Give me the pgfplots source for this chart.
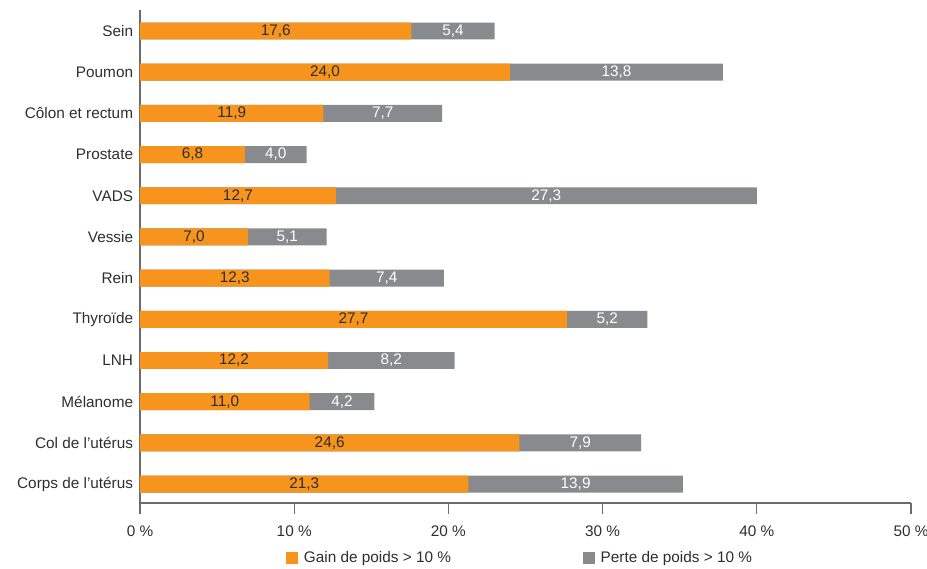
\documentclass[border=0pt]{standalone}
\usepackage{fontspec}
\setmainfont{Liberation Sans}
\usepackage{pgfplots}
\usepackage{pgfplotstable}
\pgfplotsset{compat=1.18}

\definecolor{gain}{HTML}{F7941D}
\definecolor{perte}{HTML}{898A8E}
\definecolor{axisgray}{HTML}{6B6B6B}
\definecolor{txt}{HTML}{2E2E2E}

% y: position (0 = bas), a: gain de poids, b: perte de poids
\pgfplotstableread{
y  a     b
0  21.3  13.9
1  24.6  7.9
2  11.0  4.2
3  12.2  8.2
4  27.7  5.2
5  12.3  7.4
6  7.0   5.1
7  12.7  27.3
8  6.8   4.0
9  11.9  7.7
10 24.0  13.8
11 17.6  5.4
}\data

\begin{document}
\begin{tikzpicture}[font=\fontsize{11.5}{14}\selectfont]
\useasboundingbox (-105pt,-48.75pt) rectangle (590.25pt,377.25pt);
\begin{axis}[
  width=578.25pt, height=369.75pt,
  scale only axis,
  clip=false,
  xmin=0, xmax=50,
  ymin=-0.46, ymax=11.51,
  axis x line*=bottom, axis y line*=left,
  axis line style={-, draw=axisgray, line width=1pt},
  xtick={0,10,20,30,40,50},
  xticklabels={0 \%,10 \%,20 \%,30 \%,40 \%,50 \%},
  xtick align=outside,
  major tick length=8.5pt,
  x tick style={draw=axisgray, line width=1pt},
  xticklabel style={inner sep=0pt, yshift=-8.5pt, text=txt},
  ytick={0,...,11},
  yticklabels={Corps de l'utérus,Col de l'utérus,Mélanome,LNH,Thyroïde,Rein,Vessie,VADS,Prostate,Côlon et rectum,Poumon,Sein},
  y tick style={draw=none},
  yticklabel style={inner sep=0pt, xshift=-5pt, text=txt},
  legend columns=2,
  legend style={at={(rel axis cs:0.1894,-0.1116)}, anchor=west, draw=none,
    inner sep=0pt, font=\fontsize{11.5}{14}\selectfont, text=txt,
    /tikz/every odd column/.append style={column sep=2.25pt},
    /tikz/every even column/.append style={column sep=97pt}},
  legend image code/.code={\fill[#1] (0pt,-4.5pt) rectangle (9pt,4.5pt);},
]
% barres grises (total) puis barres orange par-dessus
\addplot[xbar, bar shift=0pt, bar width=0.41, fill=perte, draw=none, forget plot]
  table[x expr=\thisrow{a}+\thisrow{b}, y=y]{\data};
\addplot[xbar, bar shift=0pt, bar width=0.41, fill=gain, draw=none, forget plot]
  table[x=a, y=y]{\data};

% etiquettes des valeurs
\addplot[draw=none, mark=none, forget plot, point meta=\thisrow{a},
  nodes near coords={\pgfmathprintnumber[assume math mode=true,fixed,fixed zerofill,precision=1,use comma]{\pgfplotspointmeta}},
  every node near coord/.style={anchor=center, text=txt, inner sep=0pt}]
  table[x expr=\thisrow{a}/2, y=y]{\data};
\addplot[draw=none, mark=none, forget plot, point meta=\thisrow{b},
  nodes near coords={\pgfmathprintnumber[assume math mode=true,fixed,fixed zerofill,precision=1,use comma]{\pgfplotspointmeta}},
  every node near coord/.style={anchor=center, text=white, inner sep=0pt}]
  table[x expr=\thisrow{a}+\thisrow{b}/2, y=y]{\data};

\addlegendimage{fill=gain, draw=none}
\addlegendentry{Gain de poids > 10 \%}
\addlegendimage{fill=perte, draw=none}
\addlegendentry{Perte de poids > 10 \%}
\end{axis}
\end{tikzpicture}
\end{document}
